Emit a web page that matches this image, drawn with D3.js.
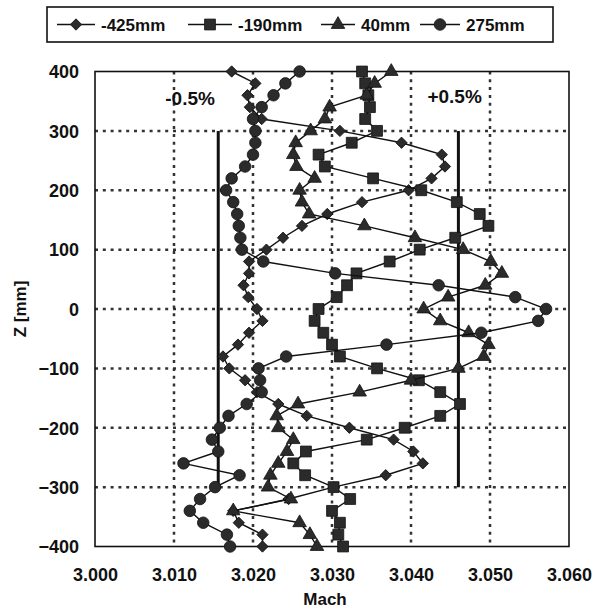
<!DOCTYPE html>
<html>
<head>
<meta charset="utf-8">
<script src="https://cdnjs.cloudflare.com/ajax/libs/d3/7.8.5/d3.min.js"></script>
<style>
  body { margin: 0; background: #fff; }
  text { font-family: "Liberation Sans", Arial, sans-serif; font-weight: bold; fill: #111; }
</style>
</head>
<body>
<script>
// Data (Mach number at each Z position)
var zValues = [400, 380, 360, 340, 320, 300, 280, 260, 240, 220, 200, 180, 160, 140, 120, 100, 80, 60, 40, 20, 0,
  -20, -40, -60, -80, -100, -120, -140, -160, -180, -200, -220, -240, -260, -280, -300, -320, -340, -360, -380, -400];

var mach425 = [3.0173, 3.0203, 3.0193, 3.0196, 3.0211, 3.0310, 3.0388, 3.0439, 3.0443, 3.0426, 3.0397, 3.0338, 3.0294, 3.0262,
  3.0238, 3.0217, 3.0195, 3.0195, 3.0188, 3.0194, 3.0205, 3.0212, 3.0195, 3.0181, 3.0162, 3.0170, 3.0190, 3.0205, 3.0232,
  3.0268, 3.0322, 3.0378, 3.0403, 3.0415, 3.0368, 3.0302, 3.0245, 3.0175, 3.0182, 3.0212, 3.0212];

var mach190 = [3.0338, 3.0342, 3.0346, 3.0348, 3.0342, 3.0357, 3.0325, 3.0283, 3.0291, 3.0352, 3.0413, 3.0458, 3.0487, 3.0498,
  3.0456, 3.0411, 3.0373, 3.0331, 3.0319, 3.0306, 3.0283, 3.0278, 3.0289, 3.0300, 3.0310, 3.0357, 3.0410, 3.0437, 3.0462,
  3.0437, 3.0392, 3.0344, 3.0267, 3.0251, 3.0266, 3.0302, 3.0323, 3.0300, 3.0310, 3.0308, 3.0314];

var mach40 = [3.0375, 3.0354, 3.0344, 3.0297, 3.0291, 3.0273, 3.0254, 3.0251, 3.0255, 3.0278, 3.0259, 3.0262, 3.0271, 3.0341,
  3.0405, 3.0466, 3.0501, 3.0515, 3.0494, 3.0447, 3.0416, 3.0437, 3.0473, 3.0498, 3.0492, 3.0460, 3.0400, 3.0335, 3.0257,
  3.0230, 3.0232, 3.0251, 3.0243, 3.0232, 3.0222, 3.0219, 3.0248, 3.0175, 3.0259, 3.0272, 3.0281];

var mach275 = [3.0259, 3.0241, 3.0226, 3.0211, 3.0200, 3.0203, 3.0203, 3.0200, 3.0190, 3.0173, 3.0166, 3.0175, 3.0180, 3.0182,
  3.0184, 3.0186, 3.0213, 3.0304, 3.0435, 3.0532, 3.0571, 3.0561, 3.0489, 3.0369, 3.0242, 3.0207, 3.0209, 3.0211, 3.0192,
  3.0169, 3.0158, 3.0148, 3.0156, 3.0112, 3.0183, 3.0152, 3.0133, 3.0120, 3.0137, 3.0167, 3.0171];

var seriesNames = ["-425mm", "-190mm", "40mm", "275mm"];
var xTicks = [3.000, 3.010, 3.020, 3.030, 3.040, 3.050, 3.060];
var yTicks = [400, 300, 200, 100, 0, -100, -200, -300, -400];

// +-0.5% band around the mean Mach number
var bandLabels = ["-0.5%", "+0.5%"];
var bandMach = [3.0156, 3.0460];
var bandZ = [-300, 300];

// Set up svg
var svgWidth = 593;
var svgHeight = 613;

var margin = { top: 71.5, right: 24, bottom: 66.5, left: 95 };

var width = svgWidth - margin.left - margin.right;
var height = svgHeight - margin.top - margin.bottom;

var svg = d3.select("body")
  .append("svg")
  .attr("width", svgWidth)
  .attr("height", svgHeight);

var chartGroup = svg.append("g")
  .attr("transform", `translate(${margin.left}, ${margin.top})`);

var xScale = d3.scaleLinear().domain([3.000, 3.060]).range([0, width]);
var yScale = d3.scaleLinear().domain([-400, 400]).range([height, 0]);

// dotted grid
chartGroup.append("g")
  .selectAll("line")
  .data(xTicks.slice(1, -1))
  .enter()
  .append("line")
  .attr("x1", d => xScale(d))
  .attr("x2", d => xScale(d))
  .attr("y1", 0)
  .attr("y2", height)
  .attr("stroke", "#333")
  .attr("stroke-width", 2.5)
  .attr("stroke-dasharray", "3,4.8");

chartGroup.append("g")
  .selectAll("line")
  .data(yTicks.slice(1, -1))
  .enter()
  .append("line")
  .attr("x1", 0)
  .attr("x2", width)
  .attr("y1", d => yScale(d))
  .attr("y2", d => yScale(d))
  .attr("stroke", "#333")
  .attr("stroke-width", 2.5)
  .attr("stroke-dasharray", "3,4.8");

// axes
var bottomAxis = d3.axisBottom(xScale).tickValues(xTicks).tickFormat(d3.format(".3f")).tickSize(0).tickPadding(22);
var leftAxis = d3.axisLeft(yScale).tickValues(yTicks).tickFormat(d3.format("d")).tickSize(0).tickPadding(16);

var xAxisG = chartGroup.append("g")
  .attr("transform", `translate(0, ${height})`)
  .call(bottomAxis);
var yAxisG = chartGroup.append("g")
  .call(leftAxis);

[xAxisG, yAxisG].forEach(function(g) {
  g.select(".domain").remove();
  g.selectAll("text").style("font-size", "18px").attr("fill", "#111");
});
yAxisG.selectAll("text").attr("dy", "0.35em");

// frame
chartGroup.append("rect")
  .attr("width", width)
  .attr("height", height)
  .attr("fill", "none")
  .attr("stroke", "#111")
  .attr("stroke-width", 1.6);

// band lines
chartGroup.selectAll(".band")
  .data(bandMach)
  .enter()
  .append("line")
  .attr("class", "band")
  .attr("x1", d => xScale(d))
  .attr("x2", d => xScale(d))
  .attr("y1", yScale(bandZ[0]))
  .attr("y2", yScale(bandZ[1]))
  .attr("stroke", "#111")
  .attr("stroke-width", 3);

chartGroup.append("text")
  .attr("x", xScale(bandMach[0]) - 53)
  .attr("y", yScale(355))
  .attr("dy", "0.35em")
  .style("font-size", "19px")
  .text(bandLabels[0]);

chartGroup.append("text")
  .attr("x", xScale(bandMach[1]) - 31)
  .attr("y", yScale(358))
  .attr("dy", "0.35em")
  .style("font-size", "19px")
  .text(bandLabels[1]);

// series
var symbols = [
  d3.symbol().type(d3.symbolSquare).size(64),    // diamond (rotated square)
  d3.symbol().type(d3.symbolSquare).size(118),
  d3.symbol().type(d3.symbolTriangle).size(80),
  d3.symbol().type(d3.symbolCircle).size(105)
];
var rotations = [45, 0, 0, 0];
var seriesData = [mach425, mach190, mach40, mach275];

var line = d3.line()
  .x(d => xScale(d[0]))
  .y(d => yScale(d[1]));

seriesData.forEach(function(values, i) {
  var pts = values.map((m, j) => [m, zValues[j]]);

  chartGroup.append("path")
    .datum(pts)
    .attr("d", line)
    .attr("fill", "none")
    .attr("stroke", "#111")
    .attr("stroke-width", 1.4);

  chartGroup.append("g")
    .selectAll("path")
    .data(pts)
    .enter()
    .append("path")
    .attr("d", symbols[i])
    .attr("transform", d => `translate(${xScale(d[0])}, ${yScale(d[1])}) rotate(${rotations[i]})`)
    .attr("fill", "#2b2b2b")
    .attr("stroke", "#111")
    .attr("stroke-width", 0.8);
});

// axis titles
chartGroup.append("text")
  .attr("transform", "rotate(-90)")
  .attr("x", -height / 2)
  .attr("y", -margin.left + 20)
  .attr("dy", "0.35em")
  .attr("text-anchor", "middle")
  .style("font-size", "17px")
  .text("Z [mm]");

chartGroup.append("text")
  .attr("x", width / 2 - 7)
  .attr("y", height + 58)
  .attr("text-anchor", "middle")
  .style("font-size", "17px")
  .text("Mach");

// legend
var legend = svg.append("g");
legend.append("rect")
  .attr("x", 47)
  .attr("y", 7)
  .attr("width", 506)
  .attr("height", 35)
  .attr("fill", "#fff")
  .attr("stroke", "#111")
  .attr("stroke-width", 1.6);

var legendX = [57, 188, 321, 420];
var legendLineW = [38, 44, 34, 40];
seriesNames.forEach(function(name, i) {
  var g = legend.append("g").attr("transform", `translate(${legendX[i]}, 24.5)`);
  g.append("line")
    .attr("x1", 0)
    .attr("x2", legendLineW[i])
    .attr("stroke", "#111")
    .attr("stroke-width", 1.4);
  g.append("path")
    .attr("d", symbols[i])
    .attr("transform", `translate(${legendLineW[i] / 2}, 0) rotate(${rotations[i]})`)
    .attr("fill", "#2b2b2b")
    .attr("stroke", "#111")
    .attr("stroke-width", 0.8);
  g.append("text")
    .attr("x", legendLineW[i] + 6)
    .attr("dy", "0.36em")
    .style("font-size", "17px")
    .text(name);
});
</script>
</body>
</html>
